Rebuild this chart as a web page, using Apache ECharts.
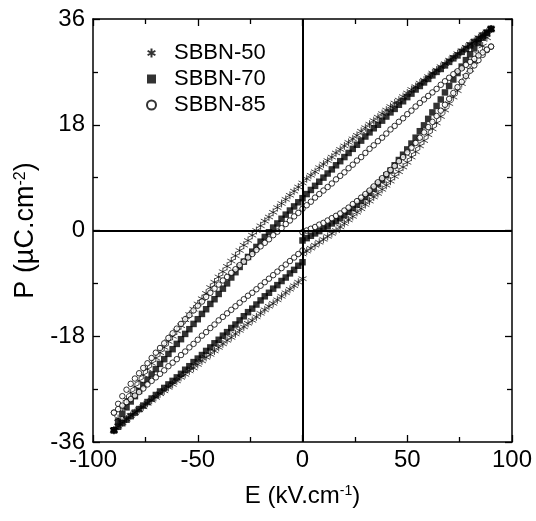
<!DOCTYPE html>
<html>
<head>
<meta charset="utf-8">
<script src="https://cdn.jsdelivr.net/npm/echarts@6/dist/echarts.min.js"></script>
<style>html,body{margin:0;padding:0;background:#fff;}#c{width:536px;height:521px;}</style>
</head>
<body>
<div id="c"></div>
<script>
// Electric field grid (kV/cm), -90 .. 90
const eGrid = [-90,-88,-86,-84,-82,-80,-78,-76,-74,-72,-70,-68,-66,-64,-62,-60,-58,-56,-54,-52,-50,-48,-46,-44,-42,-40,-38,-36,-34,-32,-30,-28,-26,-24,-22,-20,-18,-16,-14,-12,-10,-8,-6,-4,-2,0,2,4,6,8,10,12,14,16,18,20,22,24,26,28,30,32,34,36,38,40,42,44,46,48,50,52,54,56,58,60,62,64,66,68,70,72,74,76,78,80,82,84,86,88,90];

const seriesNames = ['SBBN-50','SBBN-70','SBBN-85'];
const xTicks = [-100,-50,0,50,100];
const yTicks = [-36,-18,0,18,36];

// SBBN-50: initial rise E = 0..90
const p50Rise0 = [-4.0,-3.5,-3.0,-2.5,-2.0,-1.5,-1.0,-0.5,0.0,0.6,1.2,1.8,2.4,3.1,3.7,4.4,5.0,5.7,6.3,7.0,7.7,8.4,9.2,10.0,10.8,11.6,12.5,13.4,14.4,15.3,16.3,17.3,18.3,19.4,20.5,21.6,22.7,23.8,25.0,26.2,27.4,28.7,30.0,31.4,32.8,34.3];
// SBBN-50: fall E = 90..-90
const p50Fall = [34.3,33.8,33.3,32.8,32.2,31.7,31.2,30.6,30.1,29.5,29.0,28.4,27.9,27.3,26.8,26.2,25.6,25.1,24.5,24.0,23.4,22.8,22.2,21.7,21.1,20.5,19.9,19.3,18.7,18.1,17.5,16.9,16.2,15.6,15.0,14.4,13.8,13.2,12.5,11.9,11.3,10.7,10.0,9.4,8.8,8.1,7.4,6.7,6.0,5.3,4.6,3.9,3.1,2.3,1.6,0.8,0.0,-0.8,-1.7,-2.5,-3.4,-4.3,-5.2,-6.1,-7.0,-7.9,-8.8,-9.7,-10.7,-11.6,-12.5,-13.4,-14.3,-15.2,-16.2,-17.1,-18.0,-18.9,-19.9,-20.8,-21.7,-22.6,-23.6,-24.6,-25.6,-26.6,-27.6,-28.7,-30.1,-32.0,-34.0];
// SBBN-50: rise E = -90..0
const p50Rise1 = [-34.0,-33.3,-32.7,-32.1,-31.5,-31.0,-30.5,-30.0,-29.4,-28.9,-28.4,-27.8,-27.3,-26.7,-26.2,-25.6,-25.0,-24.5,-23.9,-23.4,-22.8,-22.2,-21.6,-21.1,-20.5,-19.9,-19.3,-18.7,-18.2,-17.6,-17.0,-16.4,-15.8,-15.3,-14.7,-14.1,-13.5,-12.9,-12.4,-11.8,-11.2,-10.6,-10.0,-9.4,-8.8,-8.2];

// SBBN-70
const p70Rise0 = [-1.7,-1.3,-0.9,-0.5,-0.1,0.3,0.7,1.2,1.6,2.1,2.6,3.2,3.8,4.4,5.0,5.7,6.4,7.1,7.9,8.6,9.4,10.2,11.1,12.0,12.9,13.8,14.8,15.8,16.9,17.9,19.0,20.1,21.2,22.3,23.5,24.6,25.7,26.8,27.9,29.0,30.0,31.0,31.9,32.8,33.6,34.3];
const p70Fall = [34.3,33.7,33.2,32.6,32.1,31.5,30.9,30.4,29.8,29.3,28.7,28.1,27.5,27.0,26.4,25.8,25.2,24.6,24.0,23.3,22.7,22.0,21.4,20.7,20.1,19.4,18.7,18.0,17.4,16.7,16.0,15.3,14.6,13.9,13.2,12.5,11.8,11.1,10.4,9.7,9.0,8.3,7.6,6.9,6.2,5.5,4.8,4.1,3.4,2.7,2.0,1.2,0.5,-0.3,-1.1,-1.9,-2.8,-3.6,-4.5,-5.3,-6.2,-7.1,-8.0,-9.0,-9.9,-10.8,-11.7,-12.5,-13.4,-14.2,-15.1,-15.9,-16.8,-17.6,-18.5,-19.3,-20.2,-21.0,-21.9,-22.7,-23.6,-24.5,-25.4,-26.3,-27.3,-28.2,-29.1,-30.1,-31.2,-32.5,-34.0];
const p70Rise1 = [-34.0,-33.4,-32.8,-32.2,-31.6,-31.0,-30.4,-29.8,-29.2,-28.6,-28.0,-27.4,-26.8,-26.2,-25.6,-25.0,-24.4,-23.7,-23.1,-22.4,-21.8,-21.2,-20.5,-19.9,-19.2,-18.6,-17.9,-17.3,-16.6,-16.0,-15.3,-14.6,-13.9,-13.3,-12.6,-11.9,-11.2,-10.6,-9.9,-9.3,-8.6,-8.0,-7.3,-6.7,-6.0,-5.4];

// SBBN-85
const p85Rise0 = [-0.3,0.0,0.3,0.6,1.0,1.3,1.7,2.1,2.5,2.9,3.4,3.9,4.5,5.0,5.6,6.2,6.8,7.5,8.2,8.9,9.6,10.3,11.0,11.8,12.5,13.3,14.1,14.9,15.8,16.7,17.6,18.5,19.5,20.4,21.4,22.4,23.4,24.4,25.3,26.3,27.2,28.1,29.0,29.9,30.7,31.3];
const p85Fall = [31.3,30.8,30.3,29.8,29.2,28.7,28.2,27.6,27.1,26.6,26.0,25.4,24.8,24.1,23.5,22.9,22.3,21.7,21.1,20.4,19.8,19.1,18.5,17.8,17.2,16.5,15.8,15.2,14.5,13.9,13.2,12.5,11.9,11.2,10.6,9.9,9.3,8.7,8.0,7.4,6.8,6.2,5.6,4.9,4.3,3.7,3.0,2.4,1.7,1.1,0.4,-0.2,-0.8,-1.5,-2.1,-2.7,-3.3,-4.0,-4.6,-5.3,-5.9,-6.6,-7.2,-7.9,-8.5,-9.2,-9.9,-10.6,-11.3,-12.1,-12.8,-13.6,-14.4,-15.1,-15.9,-16.7,-17.5,-18.3,-19.2,-20.0,-20.8,-21.7,-22.6,-23.4,-24.3,-25.2,-26.1,-27.1,-28.2,-29.5,-31.0];
const p85Rise1 = [-31.0,-30.4,-29.8,-29.2,-28.7,-28.1,-27.5,-26.9,-26.2,-25.6,-25.0,-24.4,-23.8,-23.1,-22.5,-21.9,-21.2,-20.6,-19.9,-19.3,-18.6,-17.9,-17.3,-16.6,-16.0,-15.3,-14.7,-14.1,-13.5,-12.9,-12.3,-11.7,-11.1,-10.6,-10.0,-9.4,-8.8,-8.2,-7.6,-7.0,-6.4,-5.8,-5.2,-4.6,-4.0,-3.4];

const eRise0 = eGrid.slice(45);
const eFall = eGrid.slice().reverse();
const eRise1 = eGrid.slice(0, 46);

function loop(r0, f, r1) {
  return [].concat(
    eRise0.map((e, i) => [e, r0[i]]),
    eFall.map((e, i) => [e, f[i]]),
    eRise1.map((e, i) => [e, r1[i]])
  );
}

const FONT = 'Liberation Sans, Arial, sans-serif';
const asterisk = 'path://M5,0 L5,10 M0.67,2.5 L9.33,7.5 M0.67,7.5 L9.33,2.5';

function axisCommon(show) {
  return {
    axisLine: { onZero: false, lineStyle: { color: '#000', width: 1.5 } },
    axisTick: { inside: true, length: 7, lineStyle: { color: '#000', width: 1.3 } },
    minorTick: { show: true, splitNumber: 2, length: 5, lineStyle: { color: '#000', width: 1.3 } },
    splitLine: { show: false },
    axisLabel: { show: show, color: '#000', fontSize: 24, fontFamily: FONT }
  };
}

const chart = echarts.init(document.getElementById('c'), null, { renderer: 'canvas' });
chart.setOption({
  animation: false,
  backgroundColor: '#fff',
  grid: { left: 93, right: 24, top: 19, bottom: 79, containLabel: false },
  legend: {
    orient: 'vertical', left: 141, top: 37, itemWidth: 9, itemHeight: 9, itemGap: 4,
    data: seriesNames,
    textStyle: { color: '#000', fontSize: 22, fontFamily: FONT, padding: [0, 0, 0, 13] }
  },
  xAxis: [
    Object.assign({
      type: 'value', min: xTicks[0], max: xTicks[xTicks.length - 1], interval: 50, position: 'bottom',
      name: '{a|E (kV.cm}{b|-1}{a|)}', nameLocation: 'middle', nameGap: 42,
      nameTextStyle: { rich: { a: { fontSize: 24, fontFamily: FONT, color: '#000' }, b: { fontSize: 14, fontFamily: FONT, color: '#000', verticalAlign: 'top' } } }
    }, axisCommon(true), { axisLabel: { show: true, color: '#000', fontSize: 24, fontFamily: FONT, margin: 6 } }),
    Object.assign({ type: 'value', min: xTicks[0], max: xTicks[xTicks.length - 1], interval: 50, position: 'top' }, axisCommon(false))
  ],
  yAxis: [
    Object.assign({
      type: 'value', min: yTicks[0], max: yTicks[yTicks.length - 1], interval: 18, position: 'left',
      name: '{a|P (µC.cm}{b|-2}{a|)}', nameLocation: 'middle', nameGap: 49,
      nameTextStyle: { rich: { a: { fontSize: 27, fontFamily: FONT, color: '#000' }, b: { fontSize: 16, fontFamily: FONT, color: '#000', verticalAlign: 'top' } } }
    }, axisCommon(true), { axisLabel: { show: true, color: '#000', fontSize: 24, fontFamily: FONT, margin: 8 } }),
    Object.assign({ type: 'value', min: yTicks[0], max: yTicks[yTicks.length - 1], interval: 18, position: 'right' }, axisCommon(false))
  ],
  series: [
    {
      name: seriesNames[0], type: 'scatter', data: loop(p50Rise0, p50Fall, p50Rise1),
      symbol: asterisk, symbolSize: 8,
      itemStyle: { color: 'rgba(0,0,0,0)', borderColor: '#000', borderWidth: 0.9 },
      markLine: {
        silent: true, symbol: ['none', 'none'], label: { show: false },
        lineStyle: { color: '#000', width: 2, type: 'solid' },
        data: [{ xAxis: 0 }, { yAxis: 0 }]
      }
    },
    {
      name: seriesNames[1], type: 'scatter', data: loop(p70Rise0, p70Fall, p70Rise1),
      symbol: 'rect', symbolSize: 6.5,
      itemStyle: { color: '#000' }
    },
    {
      name: seriesNames[2], type: 'scatter', data: loop(p85Rise0, p85Fall, p85Rise1),
      symbol: 'circle', symbolSize: 5.5,
      itemStyle: { color: '#fff', borderColor: '#000', borderWidth: 1 }
    }
  ]
});
</script>
</body>
</html>
